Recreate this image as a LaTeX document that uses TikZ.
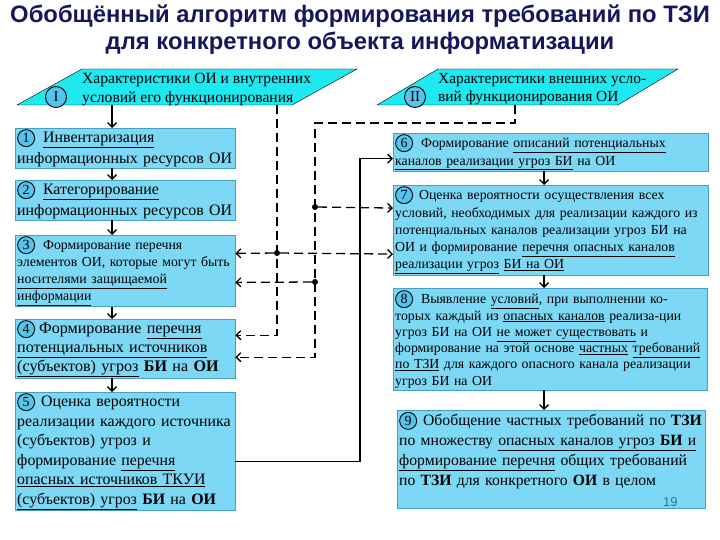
\documentclass[tikz,border=0pt]{standalone}
\usepackage{fontspec}
\setmainfont{Liberation Serif}
\setsansfont{Liberation Sans}
\usetikzlibrary{arrows.meta}

\definecolor{boxfill}{RGB}{124,216,244}
\definecolor{boxline}{RGB}{70,160,190}
\definecolor{parafill}{RGB}{30,232,240}
\definecolor{circfill}{RGB}{84,196,236}
\definecolor{titleblue}{RGB}{22,22,92}
\definecolor{pgnum}{RGB}{40,120,150}

\newcommand\undl[1]{\underline{#1}}

\tikzset{
  numcirc/.style={
    circle,
    draw=black,
    line width=0.9pt,
    fill=circfill,
    inner sep=0pt,
    minimum size=17pt,
    font=\rmfamily\fontsize{14}{14}\selectfont
  }
}

% circled numbers, typeset once
\newcommand\makecirc[1]{%
  \expandafter\newsavebox\csname numbox#1\endcsname
  \expandafter\sbox\csname numbox#1\endcsname{%
    \tikz[baseline=(n.base)]\node[numcirc] (n) {#1};}}
\newcommand\nc[1]{\expandafter\usebox\csname numbox#1\endcsname}
\makecirc{1}\makecirc{2}\makecirc{3}\makecirc{4}\makecirc{5}
\makecirc{6}\makecirc{7}\makecirc{8}\makecirc{9}

\begin{document}
\begin{tikzpicture}[
      x=1pt,y=-1pt,
      >={Straight Barb[length=4.5pt,width=9pt]},
      box/.style={
        draw=boxline,
        fill=boxfill,
        anchor=north west,
        inner xsep=2pt,
        inner ysep=1pt,
        align=left
      },
      para/.style={
        draw=black,
        fill=parafill,
        line width=0.4pt
      },
      flow/.style={
        ->,
        line width=1.3pt
      },
      dashflow/.style={
        ->,
        line width=1.3pt,
        dash pattern=on 9pt off 5pt
      },
      dot/.style={
        fill=black,
        circle,
        inner sep=0pt,
        minimum size=6pt
      },
      title/.style={
        align=center,
        text=titleblue
      }
    ]
      \fill[white] (0,0) rectangle (720,540);
      \useasboundingbox (0,0) rectangle (720,540);

      \node[title,font=\sffamily\bfseries\fontsize{23.8}{27}\selectfont] (ttl) at (360,30)
        {Обобщённый алгоритм формирования требований по ТЗИ\\для конкретного объекта информатизации};

      % input parallelograms
      \draw[para] (17,105) -- (82,69) -- (357,69) -- (292,105) -- cycle;
      \draw[para] (377,105) -- (438,69) -- (678,69) -- (618,105) -- cycle;
      \node[numcirc,minimum size=21pt,font=\rmfamily\fontsize{15}{15}\selectfont] (cI) at (56,97) {I};
      \node[numcirc,minimum size=21pt,font=\rmfamily\fontsize{15}{15}\selectfont] (cII) at (415,97) {II};
      \node[anchor=north west,align=left,inner sep=0pt,font=\fontsize{15.6}{19}\selectfont] (p1) at (82,73)
        {Характеристики ОИ и внутренних\\условий его функционирования};
      \node[anchor=north west,align=left,inner sep=0pt,font=\fontsize{15.4}{18}\selectfont] (p2) at (438,73)
        {Характеристики внешних усло-\\вий функционирования ОИ};
      \coordinate (p1in) at (112,105);
      \coordinate (p1out) at (277,105);
      \coordinate (p2out) at (515,105);

      % left column
      \node[box,minimum width=220pt,minimum height=40pt,text width=216pt,font=\fontsize{15.9}{21}\selectfont] (b1) at (15,128)
        {\nc1\hspace{8pt}\undl{Инвентаризация}\\информационных ресурсов ОИ};
      \node[box,minimum width=220pt,minimum height=40pt,text width=216pt,font=\fontsize{15.9}{21}\selectfont] (b2) at (15,180)
        {\nc2\hspace{8pt}\undl{Категорирование}\\информационных ресурсов ОИ};
      \node[box,minimum width=220pt,minimum height=71pt,text width=216pt,font=\fontsize{13.8}{17}\selectfont] (b3) at (15,235)
        {\nc3\hspace{8pt}Формирование перечня\\элементов ОИ, которые могут быть\\\undl{носителями защищаемой}\\\undl{информации}};
      \node[box,minimum width=220pt,minimum height=59pt,text width=216pt,font=\fontsize{16.1}{19}\selectfont] (b4) at (15,319)
        {\nc4\hspace{4pt}Формирование \undl{перечня}\\\undl{потенциальных источников}\\\undl{(субъектов) угроз} \textbf{БИ} на \textbf{ОИ}};
      \node[box,minimum width=220pt,minimum height=116pt,text width=216pt,font=\fontsize{15.9}{19.5}\selectfont] (b5) at (15,392)
        {\nc5\hspace{6pt}Оценка вероятности\\реализации каждого источника\\(субъектов) угроз и\\формирование \undl{перечня}\\\undl{опасных источников ТКУИ}\\\undl{(субъектов) угроз} \textbf{БИ} на \textbf{ОИ}};

      % right column
      \node[box,minimum width=315pt,minimum height=37pt,text width=311pt,font=\fontsize{13.8}{17.5}\selectfont] (b6) at (393,133)
        {\nc6\hspace{8pt}Формирование \undl{описаний потенциальных}\\\undl{каналов реализации угроз БИ} на ОИ};
      \node[box,minimum width=315pt,minimum height=88pt,text width=311pt,font=\fontsize{13.8}{17.3}\selectfont] (b7) at (393,185)
        {\nc7\hspace{6pt}Оценка вероятности осуществления всех\\условий, необходимых для реализации каждого из\\потенциальных каналов реализации угроз БИ на\\ОИ и формирование \undl{перечня опасных каналов}\\\undl{реализации угроз} \undl{БИ на ОИ}};
      \node[box,minimum width=314pt,minimum height=102pt,text width=310pt,font=\fontsize{13.8}{16.3}\selectfont] (b8) at (393,288)
        {\nc8\hspace{8pt}Выявление \undl{условий}, при выполнении ко-\\торых каждый из \undl{опасных каналов} реализа-ции\\угроз БИ на ОИ \undl{не может существовать} и\\формирование на этой основе \undl{частных} \undl{требований}\\\undl{по ТЗИ} для каждого опасного канала реализации\\угроз БИ на ОИ};
      \node[box,minimum width=308pt,minimum height=98pt,text width=304pt,font=\fontsize{15.7}{20}\selectfont] (b9) at (397,410)
        {\nc9\hspace{6pt}Обобщение частных требований по \textbf{ТЗИ}\\по множеству \undl{опасных каналов угроз \textbf{БИ} и}\\\undl{формирование перечня} общих требований\\по \textbf{ТЗИ} для конкретного \textbf{ОИ} в целом\\[1pt]\hspace*{264pt}{\sffamily\fontsize{13}{13}\selectfont\color{pgnum}19}};

      \coordinate (lx) at (112,0);
      \coordinate (rx) at (544,0);
      \coordinate (k1) at (315,123);
      \coordinate (k2) at (360,300);

      % main flow
      \draw[flow] (p1in) -- (b1.north -| lx);
      \foreach \a/\b in {b1/b2,b2/b3,b3/b4,b4/b5}
        \draw[flow] (\a.south -| lx) -- (\b.north -| lx);
      \foreach \a/\b in {b6/b7,b7/b8,b8/b9}
        \draw[flow] (\a.south -| rx) -- (\b.north -| rx);
      \draw[flow] ([yshift=-10pt]b5.east) -| (k2) |- ([yshift=-6.5pt]b6.west);

      % dashed links
      \node[dot] (j1) at (277,253) {};
      \node[dot] (j2) at (315,207) {};
      \node[dot] (j3) at (315,282) {};
      \draw[dashflow] (p1out) |- ([yshift=13.5pt]b4.east);
      \draw[dashflow] (j1) -- ([yshift=17.5pt]b3.east);
      \draw[dashflow] (j1) -- ([yshift=-24pt]b7.west);
      \draw[dashflow] (p2out) |- (k1) |- ([yshift=-8.5pt]b4.east);
      \draw[dashflow] (j2) -- ([yshift=22pt]b7.west);
      \draw[dashflow] (j3) -- ([yshift=-11.5pt]b3.east);
    \end{tikzpicture}
\end{document}
